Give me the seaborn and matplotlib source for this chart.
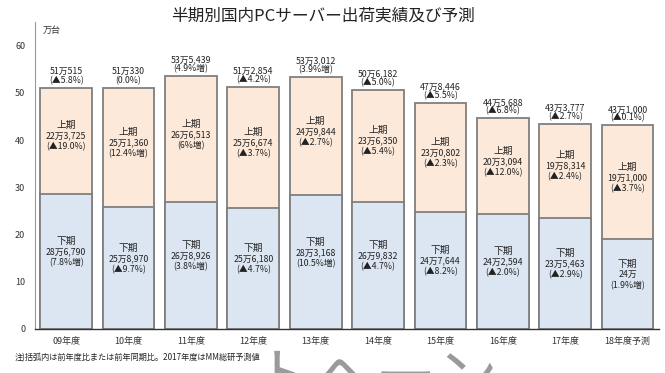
import matplotlib
matplotlib.use('Agg')
import matplotlib.pyplot as plt
import seaborn as sns
import numpy as np
import pandas as pd

# data (万台)
years = ['09年度', '10年度', '11年度', '12年度', '13年度', '14年度', '15年度', '16年度', '17年度', '18年度予測']
lower_h = [28.679, 25.897, 26.8926, 25.618, 28.3168, 26.9832, 24.7644, 24.2594, 23.5463, 19.1]
upper_h = [22.3725, 25.136, 26.6513, 25.6674, 24.9844, 23.635, 23.0802, 20.3094, 19.8314, 24.0]

total_lbl = ['51万515', '51万330', '53万5,439', '51万2,854', '53万3,012',
             '50万6,182', '47万8,446', '44万5,688', '43万3,777', '43万1,000']
total_pct = ['(▲5.8%)', '(0.0%)', '(4.9%増)', '(▲4.2%)', '(3.9%増)',
             '(▲5.0%)', '(▲5.5%)', '(▲6.8%)', '(▲2.7%)', '(▲0.1%)']
upper_lbl = ['22万3,725', '25万1,360', '26万6,513', '25万6,674', '24万9,844',
             '23万6,350', '23万0,802', '20万3,094', '19万8,314', '19万1,000']
upper_pct = ['(▲19.0%)', '(12.4%増)', '(6%増)', '(▲3.7%)', '(▲2.7%)',
             '(▲5.4%)', '(▲2.3%)', '(▲12.0%)', '(▲2.4%)', '(▲3.7%)']
lower_lbl = ['28万6,790', '25万8,970', '26万8,926', '25万6,180', '28万3,168',
             '26万9,832', '24万7,644', '24万2,594', '23万5,463', '24万']
lower_pct = ['(7.8%増)', '(▲9.7%)', '(3.8%増)', '(▲4.7%)', '(10.5%増)',
             '(▲4.7%)', '(▲8.2%)', '(▲2.0%)', '(▲2.9%)', '(1.9%増)']

df = pd.DataFrame({'year': years, 'lower': lower_h, 'upper': upper_h})
df['total'] = df['lower'] + df['upper']

sns.set_style('white')
plt.rcParams['font.family'] = ['Noto Sans CJK JP', 'DejaVu Sans']

fig = plt.figure(figsize=(6.65, 3.73), dpi=100)
ax = fig.add_axes([0.0526, 0.118, 0.938, 0.823])

peach = '#fde9d9'
blue = '#dce6f2'
edge = '#7f7f7f'

sns.barplot(data=df, x='year', y='total', color=peach, saturation=1,
            edgecolor=edge, linewidth=1.3, width=0.83, ax=ax)
sns.barplot(data=df, x='year', y='lower', color=blue, saturation=1,
            edgecolor=edge, linewidth=1.3, width=0.83, ax=ax)

txt = '#222222'
fs = 6.3
for i in range(len(years)):
    lo = df['lower'][i]
    tot = df['total'][i]
    ax.text(i, tot + 3.4, total_lbl[i], ha='center', va='center', fontsize=fs, color=txt)
    ax.text(i, tot + 1.6, total_pct[i], ha='center', va='center', fontsize=fs, color=txt)
    um = (lo + tot) / 2 + 1.0
    ax.text(i, um + 2.3, '上期', ha='center', va='center', fontsize=fs + 0.7, color=txt)
    ax.text(i, um, upper_lbl[i], ha='center', va='center', fontsize=fs, color=txt)
    ax.text(i, um - 2.3, upper_pct[i], ha='center', va='center', fontsize=fs, color=txt)
    lm = lo / 2 + 2.0
    ax.text(i, lm + 2.3, '下期', ha='center', va='center', fontsize=fs + 0.7, color=txt)
    ax.text(i, lm, lower_lbl[i], ha='center', va='center', fontsize=fs, color=txt)
    ax.text(i, lm - 2.3, lower_pct[i], ha='center', va='center', fontsize=fs, color=txt)

ax.set_ylim(0, 65)
ax.set_xlim(-0.5, len(years) - 0.5)
ax.set_yticks(range(0, 61, 10))
ax.set_xlabel('')
ax.set_ylabel('')
ax.tick_params(axis='y', direction='in', length=3, color=edge, labelsize=6.5,
               labelcolor='#333333', pad=7)
ax.tick_params(axis='x', which='major', length=0, labelsize=6.5,
               labelcolor='#333333', pad=6)
ax.set_xticks(np.arange(0.5, len(years) - 0.5), minor=True)
ax.tick_params(axis='x', which='minor', direction='out', length=2.5, color='#444444')

sns.despine(ax=ax, top=True, right=True)
ax.spines['left'].set_color('#999999')
ax.spines['bottom'].set_color('#333333')
ax.spines['bottom'].set_linewidth(1.0)

fig.text(0.485, 0.958, '半期別国内PCサーバー出荷実績及び予測', ha='center', va='center',
         fontsize=12, color='#222222')
fig.text(0.064, 0.919, '万台', ha='left', va='center', fontsize=6.5, color='#333333')
fig.text(0.022, 0.04, '注)括弧内は前年度比または前年同期比。2017年度はMM総研予測値',
         ha='left', va='center', fontsize=5.9, color='#222222')
# watermark, mostly cut off at the bottom edge
fig.text(0.565, -0.02, 'トヘーン', ha='center', va='center', fontsize=44,
         color='#9a9a9a')

plt.savefig('out.png', dpi=100)
